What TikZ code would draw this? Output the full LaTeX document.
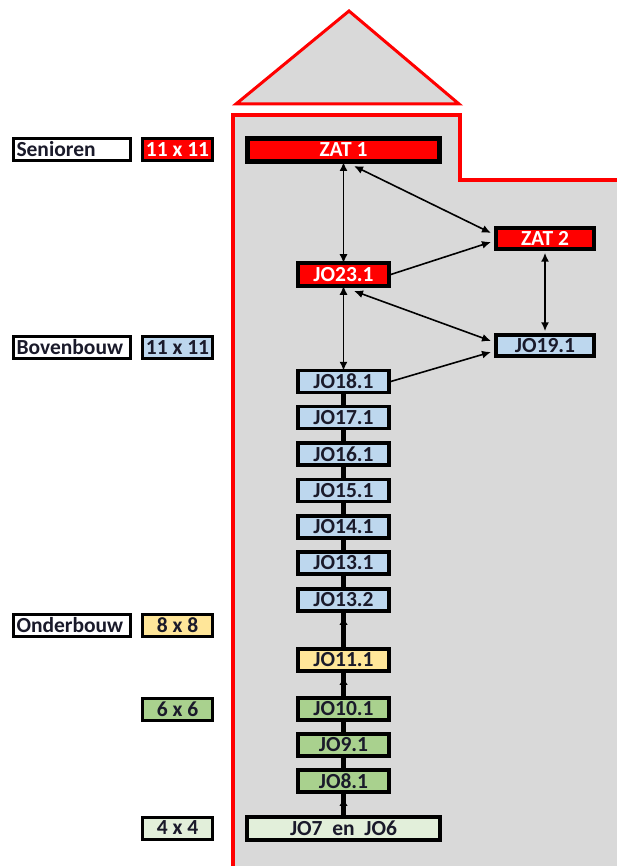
\documentclass[tikz,border=0pt]{standalone}
\usepackage{fontspec}
\setmainfont{Carlito}
\usetikzlibrary{arrows.meta}
\definecolor{zred}{HTML}{FF0000}
\definecolor{zblue}{HTML}{BDD7EE}
\definecolor{zyellow}{HTML}{FFE699}
\definecolor{zgreen}{HTML}{A9D18E}
\definecolor{zlgreen}{HTML}{E2EFDA}
\definecolor{zgray}{HTML}{D9D9D9}
\definecolor{ztext}{HTML}{1A1A2A}
\tikzset{
  team/.style={draw=black, line width=3.5pt, minimum width=91pt, minimum height=22pt, inner sep=0pt,
    font=\fontsize{21.5}{22}\selectfont\bfseries, text=ztext},
  redteam/.style={team, fill=zred, text=white},
  blueteam/.style={team, fill=zblue},
  yellowteam/.style={team, fill=zyellow},
  greenteam/.style={team, fill=zgreen},
  lgreenteam/.style={team, fill=zlgreen},
  lbl/.style={draw=black, line width=3pt, minimum height=22pt, inner sep=0pt,
    font=\fontsize{21.5}{22}\selectfont\bfseries, text=ztext},
  twoway/.style={line width=1.6pt, {Latex[length=9pt,width=8pt]}-{Latex[length=9pt,width=8pt]}},
  oneway/.style={line width=1.6pt, -{Latex[length=9pt,width=8pt]}},
  link/.style={line width=4.5pt},
  uptip/.style={fill=black},
}
\begin{document}
\begin{tikzpicture}[x=1pt,y=-1pt]
\useasboundingbox (0,0) rectangle (617,866);
% house
\fill[zgray] (233,870) -- (233,115) -- (460,115) -- (460,180) -- (620,180) -- (620,870) -- cycle;
\draw[zred, line width=4pt] (233,870) -- (233,115) -- (460,115) -- (460,180) -- (620,180);
\filldraw[draw=zred, fill=zgray, line width=3pt, line join=miter] (236,104) -- (349,11) -- (459,104) -- cycle;
% labels
\node[lbl, fill=white, minimum width=117pt, text width=111pt, align=left] (lsen) at (72,149.5) {Senioren};
\node[lbl, fill=zred, text=white, minimum width=70pt] (lsen11) at (177.5,149.5) {11 x 11};
\node[lbl, fill=white, minimum width=117pt, text width=111pt, align=left] (lbov) at (72,347.5) {Bovenbouw};
\node[lbl, fill=zblue, minimum width=70pt] (lbov11) at (177.5,347.5) {11 x 11};
\node[lbl, fill=white, minimum width=117pt, text width=111pt, align=left] (lond) at (72,625.5) {Onderbouw};
\node[lbl, fill=zyellow, minimum width=70pt] (l88) at (177.5,625.5) {8 x 8};
\node[lbl, fill=zgreen, minimum width=70pt] (l66) at (177.5,709.5) {6 x 6};
\node[lbl, fill=zlgreen, minimum width=70pt] (l44) at (177.5,828) {4 x 4};
% teams
\node[redteam, line width=5pt, minimum width=192pt, minimum height=23pt] (zat1) at (343.5,150) {ZAT 1};
\node[redteam, minimum width=98pt, minimum height=21pt] (zat2) at (545,238.5) {ZAT 2};
\node[redteam, minimum height=23pt] (jo23) at (343.5,274.5) {JO23.1};
\node[blueteam, minimum width=98pt, minimum height=21pt] (jo19) at (545,345.5) {JO19.1};
\node[blueteam] (jo18) at (343.5,381.5) {JO18.1};
\node[blueteam] (jo17) at (343.5,417.5) {JO17.1};
\node[blueteam] (jo16) at (343.5,454) {JO16.1};
\node[blueteam] (jo15) at (343.5,490.5) {JO15.1};
\node[blueteam] (jo14) at (343.5,527) {JO14.1};
\node[blueteam] (jo131) at (343.5,563) {JO13.1};
\node[blueteam] (jo132) at (343.5,600) {JO13.2};
\node[yellowteam] (jo11) at (343.5,660) {JO11.1};
\node[greenteam] (jo10) at (343.5,709) {JO10.1};
\node[greenteam] (jo9) at (343.5,745) {JO9.1};
\node[greenteam] (jo8) at (343.5,781) {JO8.1};
\node[lgreenteam, minimum width=193pt, minimum height=23pt] (jo7) at (343.5,828.5) {JO7\ \ en\ \ JO6};
% vertical chain
\draw[link] (jo18) -- (jo17);
\draw[link] (jo17) -- (jo16);
\draw[link] (jo16) -- (jo15);
\draw[link] (jo15) -- (jo14);
\draw[link] (jo14) -- (jo131);
\draw[link] (jo131) -- (jo132);
\draw[link] (jo132) -- (jo11);
\draw[link] (jo11) -- (jo10);
\draw[link] (jo10) -- (jo9);
\draw[link] (jo9) -- (jo8);
\draw[link] (jo8) -- (jo7);
\coordinate (c132) at ([yshift=-9pt]jo132.south);
\coordinate (c11) at ([yshift=-9pt]jo11.south);
\coordinate (c8) at ([yshift=-9pt]jo8.south);
\fill[uptip] (c132) ++(-4,3) -- ++(4,-6) -- ++(4,6) -- cycle;
\fill[uptip] (c11) ++(-4,3) -- ++(4,-6) -- ++(4,6) -- cycle;
\fill[uptip] (c8) ++(-4,3) -- ++(4,-6) -- ++(4,6) -- cycle;
% arrows
\coordinate (z1b) at (354,166);
\coordinate (z2a) at (491,233);
\coordinate (z2b) at (491,242);
\coordinate (j23r) at (354,291);
\coordinate (j19a) at (491,341);
\coordinate (j19b) at (491,352);
\draw[twoway] ([yshift=2pt]zat1.south) -- ([yshift=-2pt]jo23.north);
\draw[twoway] (z1b) -- (z2a);
\draw[oneway] (jo23.east) -- (z2b);
\draw[twoway] ([yshift=-2pt]zat2.south) -- ([yshift=2pt]jo19.north);
\draw[twoway] (j23r) -- (j19a);
\draw[oneway] (jo18.east) -- (j19b);
\draw[twoway] ([yshift=2pt]jo23.south) -- ([yshift=-2pt]jo18.north);
\end{tikzpicture}
\end{document}
